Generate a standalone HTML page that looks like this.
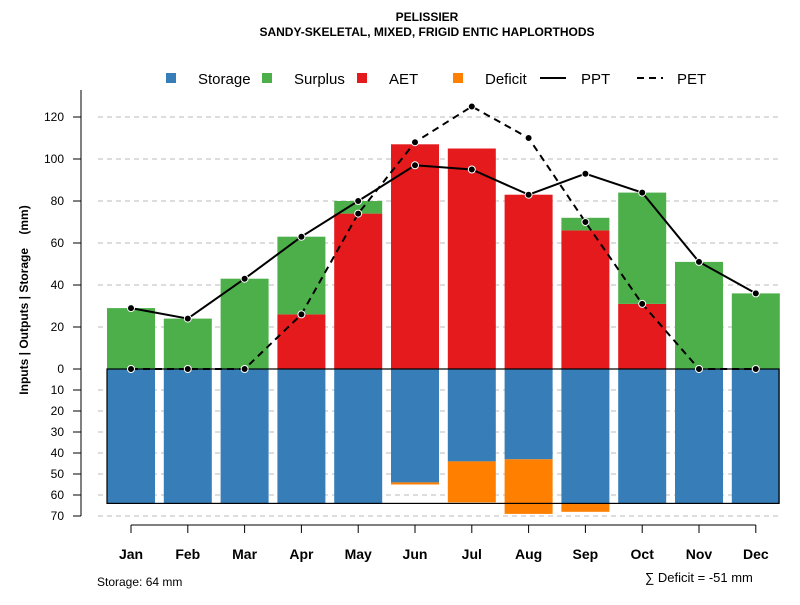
<!DOCTYPE html>
<html><head><meta charset="utf-8"><style>
body{margin:0;background:#fff}
svg text{font-family:"Liberation Sans",sans-serif;fill:#000}
</style></head><body>
<svg id="chart" width="800" height="600" xmlns="http://www.w3.org/2000/svg">
<text x="427" y="21" font-size="12" font-weight="bold" text-anchor="middle">PELISSIER</text>
<text x="427" y="36" font-size="12" font-weight="bold" text-anchor="middle">SANDY-SKELETAL, MIXED, FRIGID ENTIC HAPLORTHODS</text>
<g>
<rect x="166" y="73" width="10" height="10" fill="#377EB8"/>
<text x="198" y="84" font-size="15">Storage</text>
<rect x="262" y="73" width="10" height="10" fill="#4DAF4A"/>
<text x="294" y="84" font-size="15">Surplus</text>
<rect x="357" y="73" width="10" height="10" fill="#E41A1C"/>
<text x="389" y="84" font-size="15">AET</text>
<rect x="453" y="73" width="10" height="10" fill="#FF7F00"/>
<text x="485" y="84" font-size="15">Deficit</text>
<line x1="540" y1="78" x2="566" y2="78" stroke="#000" stroke-width="2"/>
<text x="581" y="84" font-size="15">PPT</text>
<line x1="637" y1="78" x2="663" y2="78" stroke="#000" stroke-width="2" stroke-dasharray="7,5"/>
<text x="677" y="84" font-size="15">PET</text>
</g>
<text transform="translate(28,300) rotate(-90)" font-size="12" font-weight="bold" text-anchor="middle" style="white-space:pre">Inputs | Outputs | Storage    (mm)</text>
<text x="97" y="586" font-size="12">Storage: 64 mm</text>
<text x="645" y="582" font-size="13">∑ Deficit = -51 mm</text>
<g id="grid"></g><g id="bars"></g><g id="axes"></g><g id="lines"></g>
</svg>
<script>
const months=["Jan","Feb","Mar","Apr","May","Jun","Jul","Aug","Sep","Oct","Nov","Dec"];
const ppt=[29,24,43,63,80,97,95,83,93,84,51,36];
const pet=[0,0,0,26,74,108,125,110,70,31,0,0];
const aet=[0,0,0,26,74,107,105,83,66,31,0,0];
const surplus=[29,24,43,37,6,0,0,0,6,53,51,36];
const storage=[64,64,64,64,64,54,44,43,64,64,64,64];
const deficit=[0,0,0,0,0,1,19.5,26,4,0,0,0];
const posTicks=[0,20,40,60,80,100,120];
const negTicks=[10,20,30,40,50,60,70];
const capacity=64;
const NS="http://www.w3.org/2000/svg";
const y=v=>369-v*2.1;
const x=i=>131+i*56.8;
const bw=48;
function mk(p,t,a){const e=document.createElementNS(NS,t);for(const k in a)e.setAttribute(k,a[k]);document.getElementById(p).appendChild(e);return e;}
posTicks.concat(negTicks.map(v=>-v)).forEach(v=>{
 if(v!==0){const g=mk('grid','line',{x1:98,x2:780,y1:y(v),y2:y(v),stroke:'#bbb','stroke-dasharray':'5,4'});
 
 }
 const t=mk('axes','line',{x1:73,x2:81,y1:y(v),y2:y(v),stroke:'#000'});
 
 
 const l=mk('axes','text',{x:64,y:y(v)+4,'font-size':12,'text-anchor':'end'});l.textContent=Math.abs(v);
 
 
});
const ax=mk('axes','line',{x1:81,x2:81,y1:90,y2:516,stroke:'#000'});


months.forEach((m,i)=>{
 const cx=x(i),l=cx-bw/2;
 let r=mk('bars','rect',{x:l,y:y(0),width:bw,height:storage[i]*2.1,fill:'#377EB8'});
 
 
 if(deficit[i]>0){r=mk('bars','rect',{x:l,y:y(-storage[i]),width:bw,height:deficit[i]*2.1,fill:'#FF7F00'});
 
 }
 if(aet[i]>0){r=mk('bars','rect',{x:l,y:y(aet[i]),width:bw,height:aet[i]*2.1,fill:'#E41A1C'});
 
 }
 if(surplus[i]>0){r=mk('bars','rect',{x:l,y:y(aet[i]+surplus[i]),width:bw,height:surplus[i]*2.1,fill:'#4DAF4A'});
 
 }
 const t=mk('axes','line',{x1:cx,x2:cx,y1:525,y2:533,stroke:'#000'});
 
 
 const tl=mk('axes','text',{x:cx,y:559,'font-size':14,'font-weight':'bold','text-anchor':'middle'});tl.textContent=m;
 
 
});
const box=mk('bars','rect',{x:107,y:y(0),width:672,height:capacity*2.1,fill:'none',stroke:'#000','stroke-width':1.2});


const xl=mk('axes','line',{x1:131,x2:x(11),y1:525,y2:525,stroke:'#000'});


function series(arr,name,dash){
 const p=mk('lines','polyline',{points:arr.map((v,i)=>x(i)+','+y(v)).join(' '),fill:'none',stroke:'#000','stroke-width':2,'stroke-dasharray':dash});
 
 
 arr.forEach((v,i)=>{const c=mk('lines','circle',{cx:x(i),cy:y(v),r:3.5,fill:'#000',stroke:'#fff','stroke-width':1});
 
 });
}
series(pet,'pet','7,5');
series(ppt,'ppt','none');
</script>
</body></html>
